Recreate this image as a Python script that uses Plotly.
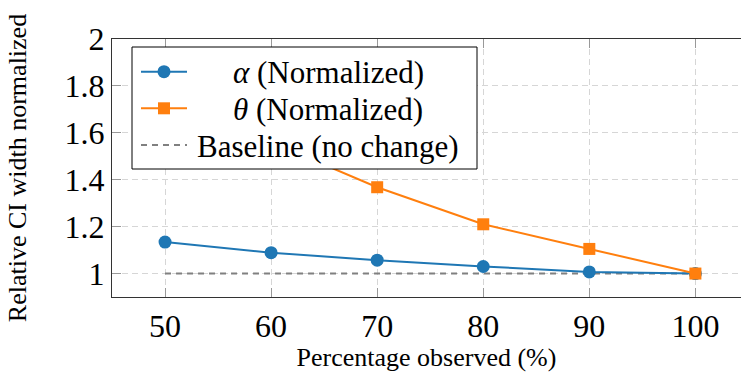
import plotly.graph_objects as go

pct = [50, 60, 70, 80, 90, 100]
alpha_norm = [1.134, 1.089, 1.057, 1.030, 1.007, 1.000]
theta_norm = [1.85, 1.56, 1.368, 1.210, 1.105, 1.000]
baseline = [1, 1, 1, 1, 1, 1]

x_ticks = [50, 60, 70, 80, 90, 100]
y_ticks = [1, 1.2, 1.4, 1.6, 1.8, 2]

legend_labels = ["<i>α</i> (Normalized)", "<i>θ</i> (Normalized)", "Baseline (no change)"]
BLUE, ORANGE, GRAY = "#1f77b4", "#ff7f0e", "#808080"

FONT = "Times New Roman, Liberation Serif, serif"

# plot area in pixels
L, R, T, B = 112, 741, 39, 297
W, H = R - L, B - T
def px(x):
    return (x - L) / W
def py(y):
    return (B - y) / H

fig = go.Figure()
fig.add_trace(go.Scatter(
    x=pct, y=baseline, mode="lines", showlegend=False,
    line=dict(color=GRAY, width=2, dash="6px,5px")))
fig.add_trace(go.Scatter(
    x=pct, y=alpha_norm, mode="lines+markers", showlegend=False,
    line=dict(color=BLUE, width=2),
    marker=dict(symbol="circle", size=13, color=BLUE)))
fig.add_trace(go.Scatter(
    x=pct, y=theta_norm, mode="lines+markers", showlegend=False,
    line=dict(color=ORANGE, width=2),
    marker=dict(symbol="square", size=12, color=ORANGE)))

# custom legend box (centred text like the reference)
shapes = [dict(type="rect", xref="paper", yref="paper", layer="above",
               x0=px(132), x1=px(477), y0=py(169), y1=py(47),
               fillcolor="white", line=dict(color="black", width=1))]
rows = [71.7, 108.3, 145.0]
styles = [(BLUE, "solid", "circle"), (ORANGE, "solid", "square"), (GRAY, "6px,5px", None)]
annotations = []
for yrow, (col, dash, sym), lab in zip(rows, styles, legend_labels):
    shapes.append(dict(type="line", xref="paper", yref="paper", layer="above",
                       x0=px(141), x1=px(187), y0=py(yrow), y1=py(yrow),
                       line=dict(color=col, width=2, dash=dash)))
    if sym is not None:
        half = 6.5 if sym == "circle" else 6
        shapes.append(dict(type="circle" if sym == "circle" else "rect",
                           xref="paper", yref="paper", layer="above",
                           xsizemode="pixel", ysizemode="pixel",
                           xanchor=px(164), yanchor=py(yrow),
                           x0=-half, x1=half, y0=-half, y1=half,
                           fillcolor=col, line=dict(color=col, width=0)))
    annotations.append(dict(xref="paper", yref="paper", x=px(328), y=py(yrow + 1),
                            xanchor="center", yanchor="middle", showarrow=False,
                            text=lab, font=dict(family=FONT, size=31, color="black")))

fig.update_layout(
    width=741, height=372,
    margin=dict(l=L, r=741 - R, t=T, b=372 - B),
    paper_bgcolor="white", plot_bgcolor="white",
    font=dict(family=FONT, color="black"),
    showlegend=False,
    shapes=shapes, annotations=annotations,
)
fig.update_xaxes(
    range=[45, 104.3], tickvals=x_ticks, ticktext=[str(v) for v in x_ticks],
    showgrid=True, gridcolor="#d6d6d6", gridwidth=1, griddash="6px,4px",
    showline=True, linecolor="#333333", linewidth=1.2, mirror="ticks",
    ticks="inside", ticklen=9, tickcolor="#999999", tickwidth=1,
    tickfont=dict(family=FONT, size=32, color="black"),
    title=dict(text="Percentage observed (%)", font=dict(family=FONT, size=26, color="black"), standoff=8),
    zeroline=False,
)
fig.update_yaxes(
    range=[0.9, 2], tickvals=y_ticks, ticktext=["1", "1.2", "1.4", "1.6", "1.8", "2"],
    showgrid=True, gridcolor="#d6d6d6", gridwidth=1, griddash="6px,4px",
    showline=True, linecolor="#333333", linewidth=1.2, mirror=False,
    ticks="inside", ticklen=9, tickcolor="#999999", tickwidth=1,
    tickfont=dict(family=FONT, size=32, color="black"),
    title=dict(text="Relative CI width normalized", font=dict(family=FONT, size=26, color="black"), standoff=30),
    zeroline=False,
)

fig.write_html("out.html")
